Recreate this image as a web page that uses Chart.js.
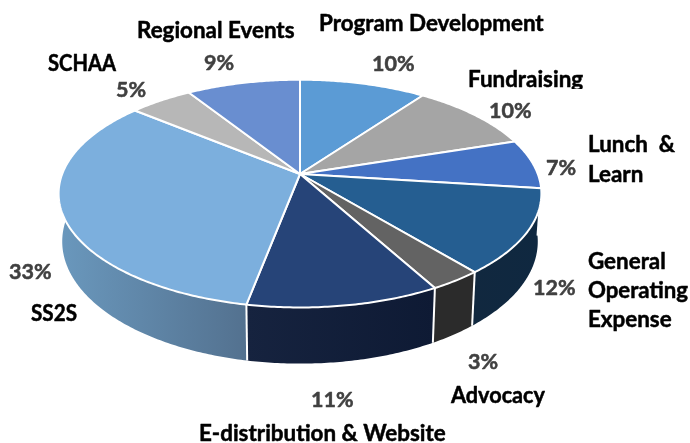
<!DOCTYPE html>
<html>
<head>
<meta charset="utf-8">
<style>
  html, body { margin:0; padding:0; background:#fff; }
  canvas { display:block; }
</style>
<script src="https://cdn.jsdelivr.net/npm/chart.js@4"></script>
</head>
<body>
<canvas id="budgetPie" width="690" height="443"></canvas>
<script>
// Chart data
const categories = ["Program Development","Fundraising","Lunch & Learn","General Operating Expense","Advocacy","E-distribution & Website","SS2S","SCHAA","Regional Events"];
const shares = [10,10,7,12,3,11,33,5,9];

// Slice colours, wall gradient goes left to right
const topColors = ["#5b9bd5","#a5a5a5","#4472c4","#255e91","#636363","#264478","#7cafdd","#b7b7b7","#698ed0"];
const wallLeft = ["#3d6a94","#747474","#2f5089","#11283f","#2b2b2b","#16233f","#6a98bd","#808080","#4a6392"];
const wallRight = ["#3d6a94","#747474","#2f5089","#0f2840","#2b2b2b","#0e1a34","#53718f","#808080","#4a6392"];

// Perspective of the tilted disc
const view = { cx:300, cy:174, rx:237.8, ry:110.5, tilt:0.172, depth:46.5, shrink:0.985 };

function project(angle, wall){
    let u = Math.sin(angle), v = Math.cos(angle);
    let w = 1 + view.tilt*v;
    let x = view.cx + view.rx*u/w;
    let y = view.cy - view.ry*v/w;
    if(wall){
        x = view.cx + (x-view.cx)*view.shrink;
        y += view.depth/w;
    }
    return [x,y];
}

function sweep(arc){
    // arc angles start at 3 o'clock, the projection starts at 12
    let a0 = arc.startAngle + Math.PI/2, a1 = arc.endAngle + Math.PI/2;
    let steps = Math.max(2, Math.ceil((a1-a0)*90));
    let out = [];
    for(let i=0;i<=steps;i++) out.push(a0+(a1-a0)*i/steps);
    return out;
}

// Heavy text, Lato bold alone is lighter than the reference
function heavyText(ctx, text, x, y, maxW){
    ctx.strokeText(text,x,y,maxW);
    ctx.fillText(text,x,y,maxW);
}

const pie3d = {
    id:"pie3d",
    beforeDatasetsDraw(chart){
        let ctx = chart.ctx;
        let arcs = chart.getDatasetMeta(0).data;
        ctx.save();
        ctx.lineJoin = "round";

        // Side walls first, the tops cover the back ones
        arcs.forEach((arc,i)=>{
            let angles = sweep(arc);
            let top = angles.map(a=>project(a,false));
            let low = angles.map(a=>project(a,true));
            let xs = top.concat(low).map(p=>p[0]);
            let g = ctx.createLinearGradient(Math.min(...xs),0,Math.max(...xs),0);
            g.addColorStop(0,wallLeft[i]);
            g.addColorStop(1,wallRight[i]);
            ctx.beginPath();
            top.forEach((p,k)=>k ? ctx.lineTo(p[0],p[1]) : ctx.moveTo(p[0],p[1]));
            low.reverse().forEach(p=>ctx.lineTo(p[0],p[1]));
            ctx.closePath();
            ctx.fillStyle = g;
            ctx.fill();
        });
        // White seams between walls
        ctx.strokeStyle = "#fff";
        ctx.lineWidth = 2;
        arcs.forEach(arc=>{
            let a = arc.endAngle + Math.PI/2;
            let p = project(a,false), q = project(a,true);
            ctx.beginPath();
            ctx.moveTo(p[0],p[1]);
            ctx.lineTo(q[0],q[1]);
            ctx.stroke();
        });

        // Top faces
        arcs.forEach((arc,i)=>{
            ctx.beginPath();
            ctx.moveTo(view.cx,view.cy);
            sweep(arc).forEach(a=>{
                let p = project(a,false);
                ctx.lineTo(p[0],p[1]);
            });
            ctx.closePath();
            ctx.fillStyle = topColors[i];
            ctx.fill();
            ctx.stroke();
        });
        ctx.restore();
        return false;
    },
    afterDraw(chart){
        let ctx = chart.ctx;
        ctx.save();
        ctx.textBaseline = "alphabetic";
        ctx.textAlign = "left";
        ctx.lineJoin = "round";
        ctx.lineWidth = 0.5;

        // Category names
        ctx.font = "bold 22.4px Lato";
        ctx.fillStyle = "#000";
        ctx.strokeStyle = "#000";
        heavyText(ctx,categories[0],319,31);
        ctx.save();
        ctx.beginPath();
        ctx.rect(460,60,130,29);
        ctx.clip();
        heavyText(ctx,categories[1],468,87);
        ctx.restore();
        heavyText(ctx,"Lunch  &",588,152);
        heavyText(ctx,"Learn",588,182);
        heavyText(ctx,"General",588,269);
        heavyText(ctx,"Operating",588,298,100);
        heavyText(ctx,"Expense",588,327);
        heavyText(ctx,categories[4],451,403,94);
        heavyText(ctx,categories[5],199,441);
        heavyText(ctx,categories[6],31,321,46);
        heavyText(ctx,categories[7],48,71,68);
        heavyText(ctx,categories[8],137,38);

        // Percent labels
        ctx.font = "bold 21.5px Lato";
        ctx.fillStyle = "#404040";
        ctx.strokeStyle = "#404040";
        let spots = [[372,71],[489,118],[546,175],[533,295],[468,369],[311,407],[9,279],[116,97],[204,70]];
        shares.forEach((s,i)=>heavyText(ctx,s+"%",spots[i][0],spots[i][1]));
        ctx.restore();
    }
};

new Chart(document.getElementById("budgetPie"),{
    type:"pie",
    data:{
        labels:categories,
        datasets:[{data:shares, backgroundColor:topColors, borderColor:"#fff", borderWidth:2}]
    },
    options:{
        responsive:false,
        animation:false,
        plugins:{legend:{display:false}, tooltip:{enabled:false}}
    },
    plugins:[pie3d]
});
</script>
</body>
</html>
